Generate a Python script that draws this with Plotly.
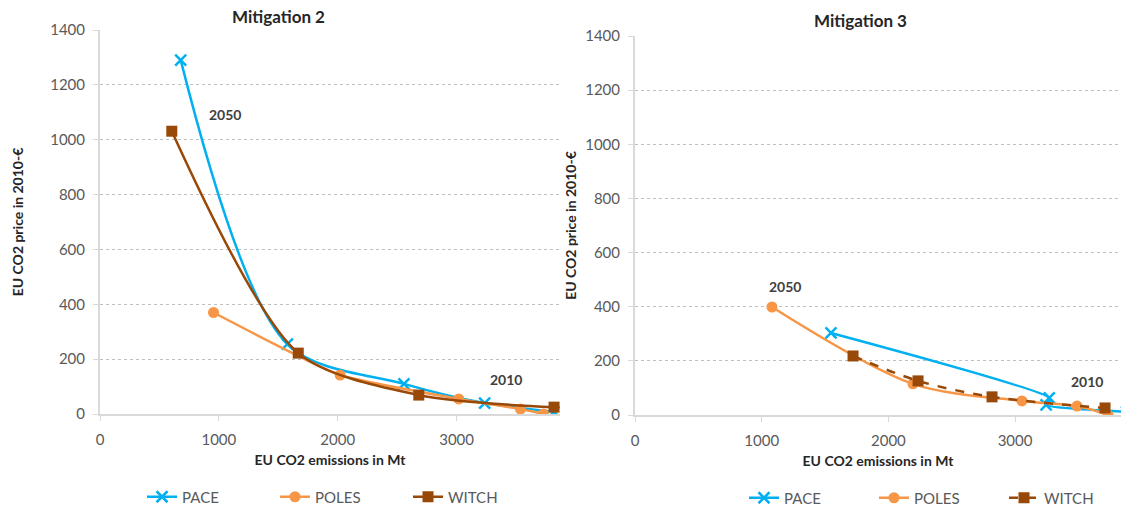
import plotly.graph_objects as go

# ---------------- data ----------------
series = ["PACE", "POLES", "WITCH"]

# Mitigation 2 (left panel)
m2_pace_x = [679, 1576, 2557, 3236, 3820]
m2_pace_y = [1290, 255, 110, 40, 8]
m2_poles_x = [955, 2020, 3018, 3537, 3730]
m2_poles_y = [370, 142, 55, 18, 0]
m2_witch_x = [604, 1668, 2682, 3820]
m2_witch_y = [1031, 222, 69, 25]

# Mitigation 3 (right panel)
m3_pace_x = [1547, 3270, 3245, 3880]
m3_pace_y = [303, 63, 37, 12]
m3_poles_x = [1081, 2194, 3054, 3489, 3733]
m3_poles_y = [399, 115, 52, 33, 0]
m3_witch_x = [1721, 2234, 2818, 3710]
m3_witch_y = [218, 126, 67, 26]

x_ticks = [0, 1000, 2000, 3000]
y_ticks = [0, 200, 400, 600, 800, 1000, 1200, 1400]

labels_m2 = [("2050", 1050, 1091), ("2010", 3412, 125)]
labels_m3 = [("2050", 1184, 473), ("2010", 3567, 122)]

# ---------------- style ----------------
FONT = "Lato"
C_PACE = "#00B0F0"
C_POLES = "#F79646"
C_WITCH = "#984807"
GRID = "#BFBFBF"
AXIS = "#D9D9D9"
TXT = "#595959"

fig = go.Figure()

def add(x, y, name, color, symbol, msize, xa, ya, legend, dash="solid", mline=None, smoothing=0.9):
    marker = dict(symbol=symbol, size=msize, color=color)
    if mline:
        marker["line"] = dict(width=mline, color=color)
    fig.add_trace(go.Scatter(
        x=x, y=y, name=name, mode="lines+markers",
        line=dict(color=color, width=2.5, shape="spline", smoothing=smoothing, dash=dash),
        marker=marker, xaxis=xa, yaxis=ya, legend=legend, cliponaxis=True,
    ))

add(m2_pace_x, m2_pace_y, "PACE", C_PACE, "x-thin-open", 11, "x", "y", "legend", mline=2.5)
add(m2_poles_x, m2_poles_y, "POLES", C_POLES, "circle", 11, "x", "y", "legend", smoothing=0.5)
add(m2_witch_x, m2_witch_y, "WITCH", C_WITCH, "square", 11, "x", "y", "legend", smoothing=0.8)

add(m3_pace_x, m3_pace_y, "PACE", C_PACE, "x-thin-open", 11, "x2", "y2", "legend2", mline=2.5, smoothing=0.5)
add(m3_poles_x, m3_poles_y, "POLES", C_POLES, "circle", 11, "x2", "y2", "legend2")
add(m3_witch_x, m3_witch_y, "WITCH", C_WITCH, "square", 11, "x2", "y2", "legend2", dash="dash")

W, H = 1121, 506

def xax(domain, rng, anchor):
    return dict(
        domain=domain, range=rng, tickvals=x_ticks, anchor=anchor, showgrid=False, zeroline=False,
        showline=True, linecolor=AXIS, linewidth=1.5, ticks="outside", ticklen=5,
        tickcolor=AXIS, tickfont=dict(family=FONT, size=15, color=TXT), ticklabelstandoff=6,
        title=dict(text="<b>EU CO2 emissions in Mt</b>", font=dict(family=FONT, size=14, color="#262626"), standoff=8),
        fixedrange=True, automargin=False,
    )

def yax(domain, anchor, standoff):
    return dict(
        domain=domain, range=[0, 1400], tickvals=y_ticks, anchor=anchor,
        showgrid=True, gridcolor=GRID, griddash="dot", gridwidth=1, zeroline=False,
        showline=True, linecolor=AXIS, linewidth=2, ticks="outside", ticklen=5,
        tickcolor=AXIS, tickfont=dict(family=FONT, size=15, color=TXT), ticklabelstandoff=5,
        title=dict(text="<b>EU CO2 price in 2010-€</b>", font=dict(family=FONT, size=14, color="#262626"), standoff=standoff),
        fixedrange=True, automargin=False,
    )

layout = dict(
    width=W, height=H, margin=dict(l=0, r=0, t=0, b=0, autoexpand=False),
    paper_bgcolor="white", plot_bgcolor="white",
    font=dict(family=FONT, color=TXT),
    xaxis=xax([100 / W, 560 / W], [0, 3870], "y"),
    yaxis=yax([(H - 414) / H, (H - 30) / H], "x", 23),
    xaxis2=xax([635 / W, 1.0], [0, 3836], "y2"),
    yaxis2=yax([(H - 415) / H, (H - 36) / H], "x2", 5),
    legend=dict(orientation="h", x=142 / W, y=(H - 497) / H, xanchor="left", yanchor="middle",
                entrywidth=88, entrywidthmode="pixels", font=dict(family=FONT, size=15, color=TXT),
                bgcolor="rgba(0,0,0,0)"),
    legend2=dict(orientation="h", x=744 / W, y=(H - 498) / H, xanchor="left", yanchor="middle",
                 entrywidth=85, entrywidthmode="pixels", font=dict(family=FONT, size=15, color=TXT),
                 bgcolor="rgba(0,0,0,0)"),
    showlegend=True,
)
fig.update_layout(**layout)

annotations = [
    dict(text="<b>Mitigation 2</b>", x=278 / W, y=(H - 16) / H, xref="paper", yref="paper",
         xanchor="center", yanchor="middle", showarrow=False, font=dict(family=FONT, size=17, color="#262626")),
    dict(text="<b>Mitigation 3</b>", x=860 / W, y=(H - 21) / H, xref="paper", yref="paper",
         xanchor="center", yanchor="middle", showarrow=False, font=dict(family=FONT, size=17, color="#262626")),
]
for t, x, y in labels_m2:
    annotations.append(dict(text=f"<b>{t}</b>", x=x, y=y, xref="x", yref="y", showarrow=False,
                            font=dict(family=FONT, size=14, color="#404040")))
for t, x, y in labels_m3:
    annotations.append(dict(text=f"<b>{t}</b>", x=x, y=y, xref="x2", yref="y2", showarrow=False,
                            font=dict(family=FONT, size=14, color="#404040")))
fig.update_layout(annotations=annotations)

fig.write_html("out.html", config={"displayModeBar": False},
               post_script="document.body.style.margin='0';")
